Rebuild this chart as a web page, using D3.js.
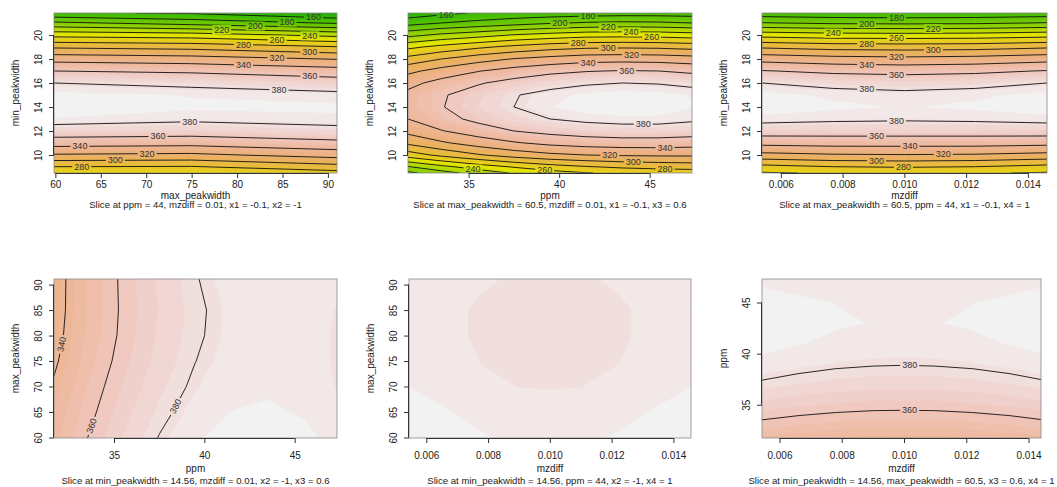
<!DOCTYPE html>
<html><head><meta charset="utf-8">
<script src="https://cdn.jsdelivr.net/npm/d3@7"></script>
<style>
body{margin:0;background:#fff;}
svg{display:block;}
</style></head><body>
<svg id="chart" width="1057" height="487"></svg>
<script>
// ================= DATA =================
const contourLevels = [140,160,180,200,220,240,260,280,300,320,340,360,380];
const topRowY = [8.5, 9, 10, 11, 12, 13, 14, 15, 16, 17, 18, 19, 20, 21, 21.83];
const peakwidthTicks = [10, 12, 14, 16, 18, 20];
const maxPeakTicks = [60, 65, 70, 75, 80, 85, 90];
const ppmTicks = [35, 40, 45];
const mzdiffTicks = [0.006, 0.008, 0.010, 0.012, 0.014];

// Panel 1: max_peakwidth (x) vs min_peakwidth (y)
const p1X = [59.85, 75, 91.0];
const p1Z = [
  [262, 262, 272], [279, 278, 292], [318, 316, 328], [349, 347, 355],
  [372, 370, 375], [387, 383, 386], [393, 389, 389], [390, 387, 384],
  [380, 376, 370], [360, 357, 349], [333, 329, 319], [297, 293, 281],
  [253, 249, 234], [204, 192, 178], [163, 158, 141]
];
const p1Labels = [[160,88.4,21.19],[180,85.5,20.92],[200,82.0,20.64],[220,78.3,20.25],[240,88.0,19.72],[260,84.4,19.36],[280,80.7,18.94],[300,88.0,18.39],[320,84.4,17.83],[340,80.7,17.22],[360,88.0,16.47],[380,84.6,15.14],[380,74.8,12.69],[360,71.3,11.5],[340,62.7,10.61],[320,70.1,10.0],[300,66.6,9.44],[280,62.9,9.03]];

// Panel 2: ppm (x) vs min_peakwidth (y)
const p2X = [31.65, 33.5, 35.5, 37.5, 39.5, 41.5, 43.5, 45.5, 47.34];
const p2Z = [
  [195, 212, 228, 242, 252, 259, 264, 267, 268],
  [218, 234, 249, 261, 271, 278, 283, 286, 288],
  [270, 285, 298, 309, 316, 320, 322, 323, 323],
  [304, 317, 329, 338, 345, 349, 351, 351, 349],
  [326, 339, 350, 360, 366, 370, 372, 372, 370],
  [340, 353, 365, 374, 380, 384, 386, 386, 383],
  [346, 359, 371, 380, 387, 391, 392, 391, 388],
  [345, 358, 369, 379, 385, 389, 391, 390, 387],
  [334, 347, 358, 367, 374, 378, 380, 379, 376],
  [315, 328, 339, 348, 355, 359, 361, 360, 356],
  [287, 300, 312, 321, 327, 332, 333, 332, 329],
  [255, 266, 276, 285, 292, 296, 297, 296, 293],
  [214, 224, 232, 241, 247, 252, 253, 252, 249],
  [172, 180, 186, 192, 198, 202, 204, 203, 200],
  [148, 155, 162, 166, 168, 170, 171, 171, 170]
];
const p2Labels = [[160,33.76,21.39],[180,41.6,21.39],[200,40.04,21.03],[220,42.71,20.61],[240,43.97,20.22],[260,45.11,19.78],[280,41.05,19.36],[300,42.71,18.89],[320,44.0,18.33],[340,41.6,17.72],[360,43.73,17.0],[380,44.65,12.42],[340,45.85,10.61],[320,42.8,10.0],[300,44.1,9.39],[280,45.85,8.81],[260,39.2,8.69],[240,35.24,8.81]];

// Panel 3: mzdiff (x) vs min_peakwidth (y)
const p3X = [0.00539, 0.0077, 0.0100, 0.0123, 0.01462];
const p3Z = [
  [258, 262, 264, 262, 258], [273, 279, 281, 279, 273], [314, 318, 319, 318, 314],
  [346, 348, 348, 348, 346], [370, 369, 369, 369, 370], [385, 383, 382, 383, 385],
  [392, 389, 387, 389, 392], [390, 386, 384, 386, 390], [380, 375, 373, 375, 380],
  [361, 356, 354, 356, 361], [333, 328, 326, 328, 333], [297, 292, 291, 292, 297],
  [252, 248, 247, 248, 252], [201, 197, 196, 197, 201], [168, 166, 165, 166, 168]
];
const p3Labels = [[180,0.00975,21.31],[200,0.00878,20.97],[220,0.01094,20.47],[240,0.0077,20.14],[260,0.00975,19.72],[280,0.00878,19.22],[300,0.01094,18.75],[320,0.00975,18.25],[340,0.00878,17.58],[360,0.00975,16.75],[380,0.00878,15.47],[380,0.00975,12.78],[360,0.0091,11.53],[340,0.01018,10.78],[320,0.01126,10.08],[300,0.0091,9.53],[280,0.00997,9.11]];

// Panel 4: ppm (x) vs max_peakwidth (y)
const p4X = [31.68, 33.5, 35.5, 37.5, 39.5, 41.5, 43.5, 45.5, 47.34];
const p4Y = [59.9, 65, 70, 75, 80, 85, 91.1];
const p4Z = [
  [346.9, 359.8, 371.5, 380.4, 386.7, 390.3, 391.2, 389.3, 385.3],
  [343.9, 356.9, 368.6, 377.6, 384.0, 387.6, 388.6, 386.8, 382.8],
  [341.3, 354.3, 366.1, 375.2, 381.6, 385.3, 386.3, 384.6, 381.8],
  [338.2, 351.6, 363.7, 373.2, 379.9, 384.0, 385.3, 384.0, 381.5],
  [336.1, 349.7, 362.1, 371.9, 378.9, 383.2, 384.8, 383.7, 381.5],
  [335.2, 349.0, 361.6, 371.4, 378.6, 383.1, 384.9, 383.9, 381.8],
  [334.9, 349.0, 361.9, 372.0, 379.5, 384.3, 386.4, 385.8, 383.5]
];
const p4Labels = [[340,32.08,78.3],[360,33.75,62.3],[380,38.36,66.2]];

// Panel 5: mzdiff (x) vs max_peakwidth (y)
const p5X = [0.00544, 0.0066, 0.0078, 0.0090, 0.0100, 0.0110, 0.0122, 0.0134, 0.01457];
const p5Y = [59.9, 65, 70, 75, 80, 85, 91.1];
const p5Z = [
  [390, 389, 388, 386.5, 386, 386.5, 388, 389, 390],
  [389, 387.8, 386, 384, 383.5, 384, 386, 387.8, 389],
  [387.5, 386, 383.2, 381.9, 381.8, 381.9, 383.2, 386, 387.5],
  [386.5, 384.2, 381.8, 381.3, 381.2, 381.3, 381.8, 384.2, 386.5],
  [386, 383, 381.4, 381, 380.9, 381, 381.4, 383, 386],
  [386, 383, 381.4, 381, 380.9, 381, 381.4, 383, 386],
  [386.5, 384, 382.5, 381.5, 381.3, 381.5, 382.5, 384, 386.5]
];
const p5Labels = [];

// Panel 6: mzdiff (x) vs ppm (y)
const p6X = [0.00544, 0.0066, 0.0078, 0.0090, 0.0100, 0.0110, 0.0122, 0.0134, 0.0144];
const p6Y = [31.75, 33, 35, 37, 39, 41, 43, 45, 47.3];
const p6Z = [
  [347.9, 345.2, 343.1, 341.9, 341.6, 341.9, 343.1, 345.2, 347.6],
  [356.8, 354.2, 352.3, 351.1, 350.8, 351.1, 352.3, 354.2, 356.6],
  [369.0, 366.6, 364.7, 363.6, 363.4, 363.6, 364.7, 366.6, 368.8],
  [378.6, 376.3, 374.5, 373.5, 373.3, 373.5, 374.5, 376.3, 378.4],
  [385.5, 383.4, 381.7, 380.8, 380.5, 380.8, 381.7, 383.4, 385.3],
  [389.8, 387.8, 386.3, 385.4, 385.1, 385.4, 386.3, 387.8, 389.6],
  [391.5, 389.6, 388.2, 387.3, 387.1, 387.3, 388.2, 389.6, 391.3],
  [390.5, 388.8, 387.4, 386.7, 386.5, 386.7, 387.4, 388.8, 390.3],
  [386.1, 384.5, 383.3, 382.6, 382.4, 382.6, 383.3, 384.5, 385.9]
];
const p6Labels = [[380,0.01018,38.68],[360,0.01018,34.25]];

const xTitles = ["max_peakwidth", "ppm", "mzdiff", "ppm", "mzdiff", "mzdiff"];
const yTitles = ["min_peakwidth", "min_peakwidth", "min_peakwidth", "max_peakwidth", "max_peakwidth", "ppm"];
const subTitles = [
  "Slice at ppm = 44, mzdiff = 0.01, x1 = -0.1, x2 = -1",
  "Slice at max_peakwidth = 60.5, mzdiff = 0.01, x1 = -0.1, x3 = 0.6",
  "Slice at max_peakwidth = 60.5, ppm = 44, x1 = -0.1, x4 = 1",
  "Slice at min_peakwidth = 14.56, mzdiff = 0.01, x2 = -1, x3 = 0.6",
  "Slice at min_peakwidth = 14.56, ppm = 44, x2 = -1, x4 = 1",
  "Slice at min_peakwidth = 14.56, max_peakwidth = 60.5, x3 = 0.6, x4 = 1"
];

// ================= STYLE / LAYOUT =================
const FONT = '"Liberation Sans", Arial, Helvetica, sans-serif';
const zMin = 118, zMax = 393, nCol = 50;
const fmtInt = d3.format("d"), fmt3 = d3.format(".3f");
const topOff = [11, 22, 31.5], botOff = [17.4, 30.7, 42.4];

const panels = [
  {x:p1X, y:topRowY, z:p1Z, xt:maxPeakTicks, yt:peakwidthTicks, fx:fmtInt, lab:p1Labels, r:[54,13,337,173], off:topOff},
  {x:p2X, y:topRowY, z:p2Z, xt:ppmTicks, yt:peakwidthTicks, fx:fmtInt, lab:p2Labels, r:[408,13,692,173], off:topOff},
  {x:p3X, y:topRowY, z:p3Z, xt:mzdiffTicks, yt:peakwidthTicks, fx:fmt3, lab:p3Labels, r:[762,13,1047,173], off:topOff},
  {x:p4X, y:p4Y, z:p4Z, xt:ppmTicks, yt:maxPeakTicks, fx:fmtInt, lab:p4Labels, r:[54,279,337,438], off:botOff},
  {x:p5X, y:p5Y, z:p5Z, xt:mzdiffTicks, yt:maxPeakTicks, fx:fmt3, lab:p5Labels, r:[409,279,691,438], off:botOff},
  {x:p6X, y:p6Y, z:p6Z, xt:mzdiffTicks, yt:ppmTicks, fx:fmt3, lab:p6Labels, r:[762,279,1041,438], off:botOff}
];

function hsv2rgb(h, s, v) {
  const i = Math.floor(h * 6), f = h * 6 - i;
  const p = v * (1 - s), q = v * (1 - f * s), t = v * (1 - (1 - f) * s);
  let r, g, b;
  switch (((i % 6) + 6) % 6) {
    case 0: r = v; g = t; b = p; break;
    case 1: r = q; g = v; b = p; break;
    case 2: r = p; g = v; b = t; break;
    case 3: r = p; g = q; b = v; break;
    case 4: r = t; g = p; b = v; break;
    default: r = v; g = p; b = q;
  }
  return d3.rgb(r * 255, g * 255, b * 255).formatHex();
}
function terrainColors(n) {
  const k = Math.floor(n / 2), out = [];
  const seq = (a, b, len) => len <= 1 ? [a] : d3.range(len).map(i => a + (b - a) * i / (len - 1));
  const h1 = seq(4/12, 2/12, k), v1 = seq(0.65, 0.9, k);
  for (let i = 0; i < k; i++) out.push(hsv2rgb(h1[i], 1, v1[i]));
  const m = n - k;
  const h2 = seq(2/12, 0, m + 1).slice(1), s2 = seq(1, 0, m + 1).slice(1), v2 = seq(0.9, 0.95, m + 1).slice(1);
  for (let i = 0; i < m; i++) out.push(hsv2rgb(h2[i], s2[i], v2[i]));
  return out;
}
const palette = terrainColors(nCol);
const breaks = d3.range(nCol + 1).map(k => zMin + k * (zMax - zMin) / nCol);

const svg = d3.select("#chart");

// split a closed contour ring into open lines, dropping pieces that run along the plot border
function ringToLines(ring, nx, ny) {
  const sides = p => [p[0] <= 0.5, p[0] >= nx - 0.5, p[1] <= 0.5, p[1] >= ny - 0.5];
  const pts = ring.slice(0, -1), m = pts.length;
  const sd = pts.map(sides);
  const keep = d3.range(m).map(i => {
    const a = sd[i], b = sd[(i + 1) % m];
    return !(a.some((v, k) => v && b[k]));
  });
  if (keep.every(k => k)) return [pts.concat([pts[0]])];
  const start = keep.findIndex((k, i) => k && !keep[(i - 1 + m) % m]);
  if (start < 0) return [];
  const lines = []; let cur = null;
  for (let c = 0; c < m; c++) {
    const i = (start + c) % m;
    if (keep[i]) { if (!cur) { cur = [pts[i]]; lines.push(cur); } cur.push(pts[(i + 1) % m]); }
    else cur = null;
  }
  return lines;
}

panels.forEach((P, pi) => {
  const [L, T, R, B] = P.r;
  const nx = P.x.length, ny = P.y.length;
  const sx = d3.scaleLinear().domain(d3.extent(P.x)).range([L, R]);
  const sy = d3.scaleLinear().domain(d3.extent(P.y)).range([B, T]);
  const gxs = d3.scaleLinear().domain(P.x.map((_, i) => i + 0.5)).range(P.x).clamp(true);
  const gys = d3.scaleLinear().domain(P.y.map((_, i) => i + 0.5)).range(P.y).clamp(true);
  const toPx = (p) => [sx(gxs(p[0])), sy(gys(p[1]))];
  const values = [];
  for (let j = 0; j < ny; j++) for (let i = 0; i < nx; i++) values.push(P.z[j][i]);

  const g = svg.append("g");
  const clipId = "clip" + pi;
  g.append("clipPath").attr("id", clipId).append("rect")
    .attr("x", L).attr("y", T).attr("width", R - L).attr("height", B - T);

  // image (filled colour bands)
  const img = g.append("g").attr("clip-path", `url(#${clipId})`);
  const lo = d3.min(values);
  const baseIdx = Math.max(0, Math.min(nCol - 1, Math.floor((lo - zMin) / ((zMax - zMin) / nCol))));
  img.append("rect").attr("x", L).attr("y", T).attr("width", R - L).attr("height", B - T)
    .attr("fill", palette[baseIdx]);
  const proj = d3.geoTransform({ point: function (x, y) { const q = toPx([x, y]); this.stream.point(q[0], q[1]); } });
  const path = d3.geoPath(proj);
  const bands = d3.contours().size([nx, ny]).thresholds(breaks.slice(1, nCol))(values);
  bands.forEach((b, k) => {
    if (!b.coordinates.length || k + 1 <= baseIdx) return;
    img.append("path").attr("d", path(b)).attr("fill", palette[k + 1]).attr("stroke", palette[k + 1]).attr("stroke-width", 0.3);
  });

  // contour lines
  const linesByLevel = {};
  contourLevels.forEach(lv => {
    const c = d3.contours().size([nx, ny]).contour(values, lv);
    const out = [];
    c.coordinates.forEach(poly => poly.forEach(ring => {
      ringToLines(ring, nx, ny).forEach(l => out.push(l.map(toPx)));
    }));
    linesByLevel[lv] = out;
  });

  // labels + mask (line is broken under each label)
  const maskId = "mask" + pi;
  const mask = g.append("mask").attr("id", maskId).attr("maskUnits", "userSpaceOnUse")
    .attr("x", 0).attr("y", 0).attr("width", 1057).attr("height", 487);
  mask.append("rect").attr("x", 0).attr("y", 0).attr("width", 1057).attr("height", 487).attr("fill", "#fff");
  const labG = g.append("g");
  P.lab.forEach(([lv, lx, ly]) => {
    const px = sx(lx), py = sy(ly);
    let best = null;
    (linesByLevel[lv] || []).forEach(line => {
      for (let i = 0; i < line.length - 1; i++) {
        const a = line[i], b = line[i + 1];
        const dx = b[0] - a[0], dy = b[1] - a[1], l2 = dx * dx + dy * dy;
        if (l2 < 1e-6) continue;
        let t = ((px - a[0]) * dx + (py - a[1]) * dy) / l2;
        t = Math.max(0, Math.min(1, t));
        const qx = a[0] + t * dx, qy = a[1] + t * dy;
        const d = (qx - px) ** 2 + (qy - py) ** 2;
        if (!best || d < best.d) best = { d, x: qx, y: qy, ang: Math.atan2(dy, dx) * 180 / Math.PI };
      }
    });
    if (!best) return;
    let ang = best.ang;
    if (ang >= 90) ang -= 180;
    if (ang < -90) ang += 180;
    if (Math.abs(ang) < 12) ang = 0;
    const txt = labG.append("text").text(lv)
      .attr("transform", `translate(${best.x},${best.y}) rotate(${ang})`)
      .attr("text-anchor", "middle").attr("dominant-baseline", "central")
      .attr("font-family", FONT).attr("font-size", 9).attr("fill", "#333");
    const w = txt.node().getComputedTextLength() + 4;
    mask.append("rect").attr("x", -w / 2).attr("y", -4.5).attr("width", w).attr("height", 9)
      .attr("transform", `translate(${best.x},${best.y}) rotate(${ang})`).attr("fill", "#000");
  });
  const lineGen = d3.line();
  const cl = g.insert("g", () => labG.node()).attr("clip-path", `url(#${clipId})`)
    .append("g").attr("mask", `url(#${maskId})`);
  Object.values(linesByLevel).forEach(arr => arr.forEach(l => {
    cl.append("path").attr("d", lineGen(l)).attr("fill", "none").attr("stroke", "#111").attr("stroke-width", 0.9);
  }));

  // frame
  g.append("rect").attr("x", L).attr("y", T).attr("width", R - L).attr("height", B - T)
    .attr("fill", "none").attr("stroke", "#888").attr("stroke-width", 0.8);

  // axes
  const xa = g.append("g").attr("transform", `translate(0,${B})`)
    .call(d3.axisBottom(sx).tickValues(P.xt).tickSize(5).tickFormat(P.fx));
  xa.select(".domain").attr("d", `M${sx(P.xt[0])},0.5H${sx(P.xt[P.xt.length - 1])}`).attr("stroke", "#333");
  xa.selectAll(".tick line").attr("stroke", "#333");
  xa.selectAll("text").attr("y", P.off[0]).attr("dy", "0.35em")
    .attr("font-family", FONT).attr("font-size", 10).attr("fill", "#222");
  xa.attr("font-family", null).attr("font-size", null);

  const ya = g.append("g").attr("transform", `translate(${L},0)`)
    .call(d3.axisLeft(sy).tickValues(P.yt).tickSize(5).tickFormat(fmtInt));
  ya.select(".domain").attr("d", `M-0.5,${sy(P.yt[0])}V${sy(P.yt[P.yt.length - 1])}`).attr("stroke", "#333");
  ya.selectAll(".tick line").attr("stroke", "#333");
  ya.selectAll("text").attr("transform", "rotate(-90)").attr("x", 0).attr("y", -12).attr("dy", "0")
    .attr("text-anchor", "middle").attr("font-family", FONT).attr("font-size", 10).attr("fill", "#222");
  ya.attr("font-family", null).attr("font-size", null);

  const cx = (L + R) / 2, cy = (T + B) / 2;
  g.append("text").text(xTitles[pi]).attr("x", cx).attr("y", B + P.off[1]).attr("dy", "0.35em")
    .attr("text-anchor", "middle").attr("font-family", FONT).attr("font-size", 10).attr("fill", "#222");
  g.append("text").text(subTitles[pi]).attr("x", cx).attr("y", B + P.off[2]).attr("dy", "0.35em")
    .attr("text-anchor", "middle").attr("font-family", FONT).attr("font-size", 9.6).attr("fill", "#222");
  g.append("text").text(yTitles[pi]).attr("transform", `translate(${L - 38.5},${cy}) rotate(-90)`)
    .attr("dy", "0.35em").attr("text-anchor", "middle").attr("font-family", FONT).attr("font-size", 10).attr("fill", "#222");
});
</script>
</body></html>
